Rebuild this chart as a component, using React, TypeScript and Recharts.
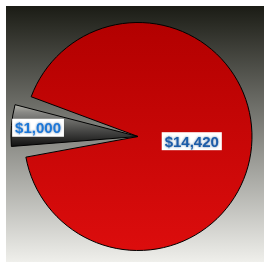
import React from 'react';
import { PieChart, Pie, Cell } from 'recharts';

const categories = ['Other', 'Main'];
const amounts = [1000, 14420];
const labelTexts = ['$1,000', '$14,420'];

const data = categories.map((name, i) => ({ name, value: amounts[i], label: labelTexts[i] }));

const RADIAN = Math.PI / 180;
const labelRadiusFactor = [0.79, 0.425];
const labelColors = ['#1e78d8', '#1b5ba8'];

const renderLabel = (props: any) => {
  const { cx, cy, midAngle, outerRadius, index } = props;
  const r = outerRadius * labelRadiusFactor[index];
  const x = cx + r * Math.cos(-midAngle * RADIAN);
  const y = cy + r * Math.sin(-midAngle * RADIAN);
  const text = data[index].label;
  const w = text.length * 8.3 + 2;
  return (
    <g key={`lbl-${index}`}>
      <rect x={x - w / 2} y={y - 9} width={w} height={18} fill="#ffffff" />
      <text
        x={x}
        y={y}
        textAnchor="middle"
        dominantBaseline="central"
        fontFamily="'Liberation Sans', Arial, sans-serif"
        fontWeight="bold"
        fontSize={15}
        fill={labelColors[index]}
        filter="url(#txtShadow)"
      >
        {text}
      </text>
    </g>
  );
};

export default function App() {
  return (
    <div
      style={{
        position: 'absolute',
        left: 6,
        top: 6,
        width: 258,
        height: 256,
        background: 'linear-gradient(to bottom, #1b1c15 0%, #efefeb 100%)',
      }}
    >
      <svg width={0} height={0} style={{ position: 'absolute' }}>
        <defs>
          <linearGradient id="redGrad" x1="0" y1="0" x2="0" y2="1">
            <stop offset="0%" stopColor="#b20000" />
            <stop offset="100%" stopColor="#dc0d0d" />
          </linearGradient>
          <linearGradient id="grayGrad" x1="0" y1="0" x2="0" y2="1">
            <stop offset="0%" stopColor="#b4b4ac" />
            <stop offset="18%" stopColor="#8a8a86" />
            <stop offset="100%" stopColor="#101010" />
          </linearGradient>
          <filter id="txtShadow" x="-20%" y="-40%" width="140%" height="180%">
            <feGaussianBlur in="SourceAlpha" stdDeviation="1" result="b" />
            <feFlood floodColor="#1a3f7a" floodOpacity="0.6" />
            <feComposite in2="b" operator="in" result="s" />
            <feMerge>
              <feMergeNode in="s" />
              <feMergeNode in="SourceGraphic" />
            </feMerge>
          </filter>
        </defs>
      </svg>
      <PieChart width={258} height={256} margin={{ top: 0, right: 0, bottom: 0, left: 0 }}>
        <Pie
          data={data}
          dataKey="value"
          cx={132}
          cy={130.5}
          outerRadius={114}
          startAngle={163.6}
          endAngle={523.6}
          paddingAngle={4}
          stroke="#000000"
          strokeWidth={1}
          isAnimationActive={false}
          label={false}
          labelLine={false}
        >
          <Cell key="c0" fill="none" stroke="none" />
          <Cell key="c1" fill="url(#redGrad)" />
        </Pie>
        <Pie
          data={data}
          dataKey="value"
          cx={132}
          cy={130.5}
          outerRadius={127}
          startAngle={165.5}
          endAngle={525.5}
          paddingAngle={33.5}
          stroke="#000000"
          strokeWidth={1}
          isAnimationActive={false}
          label={renderLabel}
          labelLine={false}
        >
          <Cell key="g0" fill="url(#grayGrad)" />
          <Cell key="g1" fill="none" stroke="none" />
        </Pie>
      </PieChart>
    </div>
  );
}
